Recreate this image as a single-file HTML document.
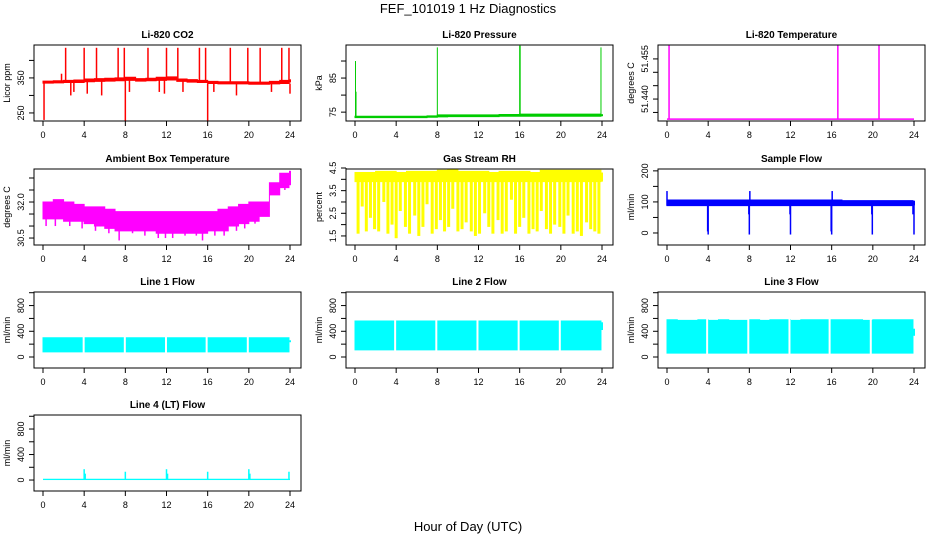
<!DOCTYPE html>
<html><head><meta charset="utf-8"><style>
body{margin:0;background:#fff;}
svg{display:block;font-family:"Liberation Sans",Arial,sans-serif;}
</style></head><body>
<svg id="chart" width="936" height="540" viewBox="0 0 936 540">
<text x="468" y="13" text-anchor="middle" font-size="13">FEF_101019  1 Hz Diagnostics</text>
<text x="468" y="531" text-anchor="middle" font-size="13">Hour of Day (UTC)</text>
</svg>
<script>
const hours=[0,1,2,3,4,5,6,7,8,9,10,11,12,13,14,15,16,17,18,19,20,21,22,23,24];
const xTicks=[0,4,8,12,16,20,24];
// CO2
const co2Lo=[335,336,337,337,339,340,341,342,343,341,342,343,344,340,338,337,334,333,333,333,332,332,333,334,337];
const co2Hi=[341,342,343,344,347,348,349,350,352,348,349,352,353,347,345,343,340,339,339,339,338,338,340,343,346];
const co2SpikeH=[0.1,1.8,2.2,2.7,3.0,4.0,4.3,5.2,5.7,7.3,7.9,8.0,8.4,10.2,11.3,11.8,12.0,13.1,13.6,15.2,15.8,16.0,16.6,18.2,18.8,19.9,21.1,22.2,23.2,23.9,24.0];
const co2SpikeV=[230,362,436,300,310,436,305,436,300,436,436,226,310,436,310,305,436,436,310,436,436,226,310,436,300,436,436,310,436,436,305];
// Pressure
const presLo=[73.4,73.4,73.4,73.4,73.4,73.4,73.4,73.5,73.6,73.7,73.7,73.7,73.7,73.7,73.8,73.8,73.8,73.8,73.8,73.8,73.8,73.8,73.8,73.8,73.8];
const presHi=[73.8,73.8,73.8,73.8,73.8,73.8,73.8,73.9,74.2,74.2,74.2,74.2,74.2,74.2,74.3,74.3,74.4,74.4,74.4,74.4,74.4,74.4,74.4,74.4,74.4];
const presSpikeH=[0.05,0.1,8.0,16.0,16.05,23.9];
const presSpikeV=[90,81,94,94.5,94.5,94];
// Li-820 temperature
const tempBase=51.4325;
const tempSpikeH=[0.2,16.6,20.6];
const tempSpikeV=[51.46,51.46,51.46];
// Ambient box temperature
const ambLo=[31.3,31.3,31.2,31.2,31.1,31.0,30.9,30.8,30.8,30.8,30.8,30.7,30.7,30.7,30.7,30.7,30.8,30.8,31.0,31.1,31.2,31.4,32.3,32.6,32.7];
const ambHi=[32.0,32.1,32.0,31.9,31.8,31.8,31.7,31.6,31.6,31.6,31.6,31.6,31.6,31.6,31.6,31.6,31.6,31.7,31.8,31.9,32.0,32.0,32.8,33.2,33.3];
const ambDipH=[0.3,1.2,2.6,3.8,5.1,6.4,7.4,8.7,9.9,11.2,11.9,12.6,13.8,14.9,15.5,16.7,17.6,18.8,19.6,20.6,21.6,22.6,23.5];
const ambDipV=[31.0,31.0,31.0,30.9,30.8,30.7,30.4,30.7,30.6,30.5,30.5,30.5,30.6,30.6,30.4,30.6,30.6,30.8,30.9,31.1,31.5,32.3,32.5];
// Gas stream RH
const rhHi=[4.3,4.3,4.35,4.35,4.3,4.35,4.35,4.35,4.4,4.45,4.35,4.35,4.35,4.3,4.35,4.35,4.35,4.3,4.4,4.4,4.4,4.4,4.4,4.4,4.3];
const rhBandLo=[3.9,3.9,3.9,3.9,3.9,3.9,3.9,3.9,3.9,3.9,3.9,3.9,3.9,3.9,3.9,3.9,3.9,3.9,3.9,3.9,3.9,3.9,3.9,3.9,3.9];
const rhDipH=[0.3,0.7,1.1,1.5,1.9,2.3,2.8,3.2,3.6,4.0,4.4,4.9,5.3,5.8,6.2,6.6,7.0,7.5,7.9,8.3,8.7,9.1,9.5,10.0,10.4,10.8,11.3,11.7,12.1,12.6,13.0,13.4,13.9,14.3,14.7,15.2,15.6,16.0,16.4,16.9,17.3,17.7,18.1,18.6,19.0,19.4,19.9,20.3,20.7,21.2,21.6,22.0,22.5,22.9,23.3,23.7];
const rhDipV=[1.6,2.8,1.7,2.3,1.8,1.7,3.0,1.6,2.0,1.4,2.6,1.9,1.6,2.4,1.5,1.9,2.9,1.6,1.8,2.2,1.7,1.9,2.7,1.7,1.8,2.1,1.7,1.5,1.6,2.5,1.9,1.6,2.2,1.6,1.7,3.1,1.6,1.9,2.3,1.6,1.8,1.7,2.6,1.8,1.6,2.0,1.9,1.6,2.4,1.6,1.7,1.5,2.1,1.8,1.7,1.6];
// Sample flow
const sfLo=[88,88,88,88,88,88,88,88,88,88,88,88,88,88,88,88,88,88,88,88,88,88,88,88,88];
const sfHi=[106,106,106,106,106,106,106,106,106,106,106,106,106,106,106,106,106,104,104,104,104,104,104,104,104];
const sfSpikeH=[0.0,3.95,4.0,7.95,8.0,8.05,11.95,12.0,15.95,16.0,16.05,19.9,19.95,23.9,24.0];
const sfSpikeV=[135,5,-5,60,-5,135,60,-5,5,-5,135,60,-5,60,-5];
// Line flows
const l1Lo=[80,80,80,80,80,80,80,80,80,80,80,80,80,80,80,80,80,80,80,80,80,80,80,80,230];
const l1Hi=[300,300,300,300,300,300,300,300,300,300,300,300,300,300,300,300,300,300,300,300,300,300,300,300,260];
const l1GapH=[3.95,7.95,11.95,15.9,19.9];
const l2Lo=[110,110,110,110,110,110,110,110,110,110,110,110,110,110,110,110,110,110,110,110,110,110,110,110,420];
const l2Hi=[560,560,560,560,560,560,560,560,560,560,560,560,560,560,560,560,560,560,560,560,560,560,560,560,540];
const l2GapH=[3.9,7.9,11.9,15.9,19.9];
const l3Lo=[60,60,60,60,60,60,60,60,60,60,60,60,60,60,60,60,60,60,60,60,60,60,60,60,330];
const l3Hi=[580,570,570,580,570,580,570,570,580,570,580,580,570,580,580,580,580,580,580,570,580,580,580,580,440];
const l3GapH=[3.9,7.9,11.9,15.8,19.8];
const l4Base=10;
const l4SpikeH=[4.0,4.1,8.0,12.0,12.1,16.0,20.0,20.1,23.9];
const l4SpikeV=[170,100,130,170,100,130,170,100,130];

const NS="http://www.w3.org/2000/svg";
const svg=document.getElementById('chart');
function mk(tag,at,parent){const e=document.createElementNS(NS,tag);for(const k in at)e.setAttribute(k,at[k]);(parent||svg).appendChild(e);return e;}

function panel(c,r,title,ylab,dom,ticks,labels,slug){
  const L=34+312*c,T=[45,169,292,415][r],W=267,H=76;
  const g=mk('g',{});
  
  
  const x=h=>L+9+h/24*247;
  const y=v=>T+H-(v-dom[0])/(dom[1]-dom[0])*H;
  const t=mk('text',{x:L+W/2,y:T-7,'text-anchor':'middle','font-size':10,'font-weight':'bold'},g);
  t.textContent=title;
  
  
  const d=mk('g',{},g);
  
  
  const box=mk('rect',{x:L,y:T,width:W,height:H,fill:'none',stroke:'#000','stroke-width':1},g);
  
  
  const xa=mk('g',{},g);
  
  
  mk('line',{x1:x(0),x2:x(24),y1:T+H,y2:T+H,stroke:'#000'},xa);
  xTicks.forEach(h=>{mk('line',{x1:x(h),x2:x(h),y1:T+H,y2:T+H+5,stroke:'#000'},xa);
    const tx=mk('text',{x:x(h),y:T+H+17,'text-anchor':'middle','font-size':9},xa);tx.textContent=h;});
  const ya=mk('g',{},g);
  
  
  mk('line',{x1:L,x2:L,y1:y(ticks[0]),y2:y(ticks[ticks.length-1]),stroke:'#000'},ya);
  ticks.forEach(v=>{mk('line',{x1:L-5,x2:L,y1:y(v),y2:y(v),stroke:'#000'},ya);});
  labels.forEach(v=>{const tx=mk('text',{x:L-10,y:y(v),'text-anchor':'middle','font-size':9,transform:`rotate(-90 ${L-10} ${y(v)})`},ya);tx.textContent=v;});
  const yl=mk('text',{x:L-24,y:T+H/2,'text-anchor':'middle','font-size':9,transform:`rotate(-90 ${L-24} ${T+H/2})`},g);
  yl.textContent=ylab;
  
  
  return {x,y,d};
}
function band(p,lo,hi,col,name){
  let top=[],bot=[];
  for(let i=0;i<24;i++){const a=p.x(i),b=p.x(Math.min(i+1,23.9));
    top.push(a+','+p.y(hi[i]),b+','+p.y(hi[i]));
    bot.push(a+','+p.y(lo[i]),b+','+p.y(lo[i]));}
  const pts=top.concat(bot.reverse());
  const e=mk('polygon',{points:pts.join(' '),fill:col,stroke:col,'stroke-width':1},p.d);
  
  
  const t=mk('line',{x1:p.x(24),x2:p.x(24),y1:p.y(lo[24]),y2:p.y(hi[24]),stroke:col,'stroke-width':2},p.d);
  
  
}
function spikes(p,hs,vs,base,col,name,w){
  hs.forEach((h,i)=>{const e=mk('line',{x1:p.x(h),x2:p.x(h),y1:p.y(base(h)),y2:p.y(vs[i]),stroke:col,'stroke-width':w||1.5},p.d);
  
  });
}
function stepv(arr){return h=>arr[Math.min(23,Math.floor(h))];}
function gaps(p,hs,lo,hi,name){
  hs.forEach(h=>{const e=mk('line',{x1:p.x(h),x2:p.x(h),y1:p.y(hi+20),y2:p.y(lo-20),stroke:'#fff','stroke-width':2},p.d);
  
  });
}

// CO2
let p=panel(0,0,'Li-820 CO2','Licor ppm',[227,444],[250,300,350,400],[250,350],'co2');
band(p,co2Lo,co2Hi,'#f00','co2-band');
spikes(p,co2SpikeH,co2SpikeV,stepv(co2Lo),'#f00','co2-spike',1.5);
// Pressure
p=panel(1,0,'Li-820 Pressure','kPa',[72.4,94.7],[75,80,85,90],[75,85],'pressure');
band(p,presLo,presHi,'#0c0','pressure-band');
spikes(p,presSpikeH,presSpikeV,stepv(presLo),'#0c0','pressure-spike',1);
// Temperature
p=panel(2,0,'Li-820 Temperature','degrees C',[51.4318,51.4602],[51.435,51.44,51.445,51.45,51.455],['51.440','51.455'],'li820-temp');
{const e=mk('line',{x1:p.x(0),x2:p.x(24),y1:p.y(tempBase),y2:p.y(tempBase),stroke:'#f0f','stroke-width':1.5},p.d);

}
spikes(p,tempSpikeH,tempSpikeV,()=>tempBase,'#f0f','li820-temp-spike',1.5);
// Ambient
p=panel(0,1,'Ambient Box Temperature','degrees C',[30.21,33.375],[30.5,31,31.5,32,32.5,33],['30.5','32.0'],'ambient-temp');
band(p,ambLo,ambHi,'#f0f','ambient-temp-band');
spikes(p,ambDipH,ambDipV,stepv(ambLo),'#f0f','ambient-temp-dip',1.5);
// RH
p=panel(1,1,'Gas Stream RH','percent',[1.1,4.456],[1.5,2,2.5,3,3.5,4,4.5],['1.5','2.5','3.5','4.5'],'rh');
band(p,rhBandLo,rhHi,'#ff0','rh-band');
spikes(p,rhDipH,rhDipV,stepv(rhBandLo),'#ff0','rh-dip',3);
// Sample flow
p=panel(2,1,'Sample Flow','ml/min',[-38.7,206],[0,50,100,150,200],[0,100,200],'sample-flow');
band(p,sfLo,sfHi,'#00f','sample-flow-band');
spikes(p,sfSpikeH,sfSpikeV,stepv(sfLo),'#00f','sample-flow-spike',1.5);
// Line flows
const fd=[-171,1011],ft=[0,200,400,600,800,1000],fl=[0,400,800];
p=panel(0,2,'Line 1 Flow','ml/min',fd,ft,fl,'line1-flow');
band(p,l1Lo,l1Hi,'#0ff','line1-flow-band');gaps(p,l1GapH,80,300,'line1-flow-gap');
p=panel(1,2,'Line 2 Flow','ml/min',fd,ft,fl,'line2-flow');
band(p,l2Lo,l2Hi,'#0ff','line2-flow-band');gaps(p,l2GapH,110,560,'line2-flow-gap');
p=panel(2,2,'Line 3 Flow','ml/min',fd,ft,fl,'line3-flow');
band(p,l3Lo,l3Hi,'#0ff','line3-flow-band');gaps(p,l3GapH,60,580,'line3-flow-gap');
p=panel(0,3,'Line 4 (LT) Flow','ml/min',[-172,1020],ft,fl,'line4-flow');
{const e=mk('rect',{x:p.x(0),y:p.y(l4Base+10),width:p.x(24)-p.x(0),height:p.y(l4Base-10)-p.y(l4Base+10),fill:'#0ff'},p.d);

}
spikes(p,l4SpikeH,l4SpikeV,()=>l4Base,'#0ff','line4-flow-spike',1.5);
</script>
</body></html>
